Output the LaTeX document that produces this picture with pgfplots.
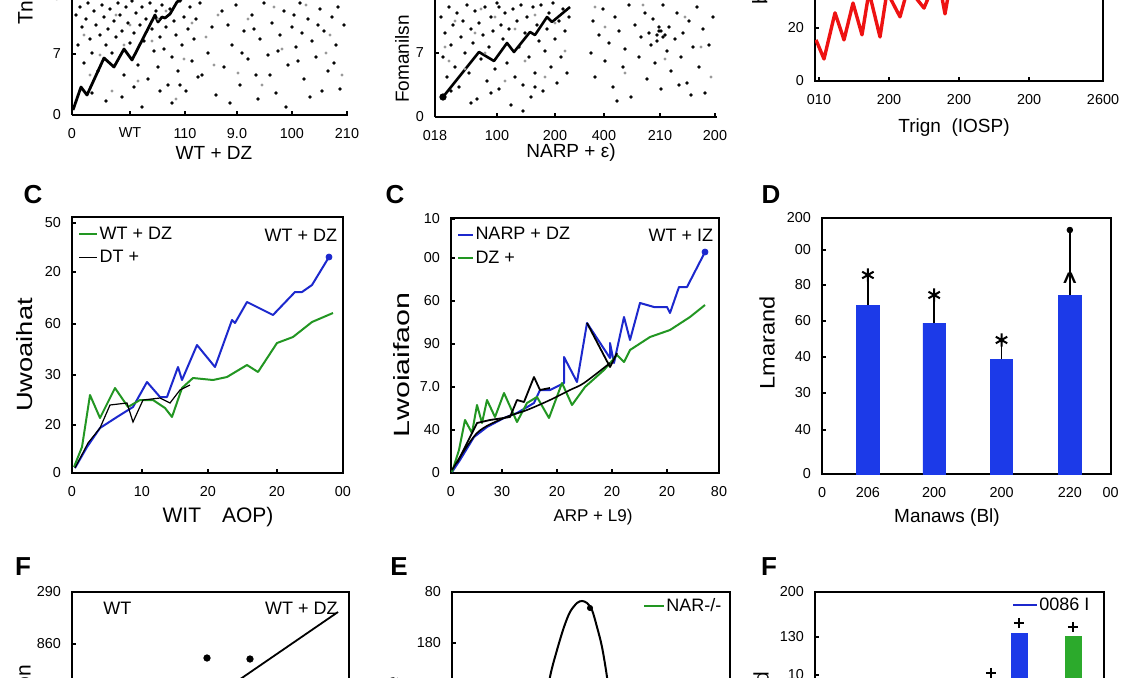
\documentclass[border=0pt]{standalone}
\usepackage{fontspec}
\setmainfont{Liberation Sans}
\usepackage{pgfplots}
\pgfplotsset{compat=1.18}
\definecolor{barblue}{RGB}{28,58,232}
\definecolor{lblue}{RGB}{28,40,205}
\definecolor{lgreen}{RGB}{34,150,34}
\definecolor{bgreen}{RGB}{44,170,44}
\definecolor{lred}{RGB}{238,18,18}
\newcommand{\lab}{\fontsize{9.5}{11}\selectfont}
\newcommand{\ylab}{\fontsize{10.5}{12}\selectfont}
\newcommand{\pan}{\fontsize{13}{13}\selectfont\bfseries}
\pgfplotsset{
  panel/.style={
    scale only axis, anchor=south west,
    axis line style={-, line width=0.9pt},
    every tick/.style={black, line width=0.6pt},
    major tick length=2pt, tick align=inside, tick pos=left,
    ticklabel style={font=\fontsize{7.2}{8}\selectfont},
    xticklabel style={yshift=-3pt},
    yticklabel style={xshift=-2pt},
    legend style={draw=none, fill=none, font=\fontsize{9}{10}\selectfont, inner sep=0pt, row sep=1.5pt,
      nodes={inner sep=0.6pt, text height=7pt, text depth=2pt}},
    legend cell align=left,
  },
  dots/.style={only marks, mark=*, mark size=0.6pt, black},
  gdots/.style={only marks, mark=*, mark size=0.5pt, black!40},
}
\begin{document}
\begin{tikzpicture}
\useasboundingbox (0pt,0pt) rectangle (565.5pt,338.5pt);
\clip (0pt,0pt) rectangle (565.5pt,338.5pt);

% ---------------- top-left
\begin{axis}[panel, at={(36pt,281pt)}, width=138pt, height=122pt,
  xmin=0, xmax=276, ymin=0, ymax=244, axis lines*=left,
  xtick={0,58,113,165,220,275}, xticklabels={0,WT,110,9.0,100,210},
  ytick={0,61,119}, yticklabels={0,7,10}]
\addplot[dots] coordinates {(4,100) (6,70) (8,108) (10,88) (12,52) (14,96) (16,112) (18,76) (20,62) (22,104) (24,90) (26,44) (28,80) (30,110) (32,98) (34,70) (36,86) (38,106) (40,62) (42,94) (44,78) (46,112) (48,100) (50,84) (52,40) (54,108) (56,92) (58,72) (60,114) (62,82) (64,102) (66,50) (68,90) (70,108) (72,74) (74,96) (76,36) (78,112) (80,86) (82,64) (84,104) (86,48) (88,78) (90,110) (92,66) (94,88) (96,30) (98,106) (100,58) (102,94) (104,80) (106,44) (108,114) (110,70) (112,98) (114,24) (116,86) (118,108) (120,54) (122,76) (124,96) (126,38) (128,112) (20,22) (34,14) (50,18) (62,28) (88,24) (100,12) (70,8) (108,30) (130,40) (136,62) (140,88) (144,20) (150,104) (152,48) (156,90) (160,70) (164,110) (168,30) (172,84) (176,56) (180,100) (184,40) (188,76) (192,112) (196,60) (200,92) (204,22) (208,80) (212,104) (216,50) (220,88) (224,68) (228,112) (232,36) (236,96) (240,74) (244,58) (248,106) (252,84) (256,44) (260,98) (264,70) (268,26) (272,90) (158,12) (186,16) (214,8) (238,18) (262,52) (170,62) (198,40) (226,54) (250,24) (230,82) (206,64) (182,86) (246,90) (266,108) (222,100)};
\addplot[gdots] coordinates {(12,80) (28,60) (44,100) (58,90) (66,34) (80,74) (94,104) (112,56) (120,92) (134,78) (142,50) (176,96) (190,30) (210,66) (234,110) (254,62) (270,40) (40,24) (104,16) (166,42) (18,40) (52,70) (86,96) (146,100) (202,108) (258,80)};
\addplot[black, line width=1.4pt, line join=round] coordinates {(1,5) (9,28) (15,20) (32,57) (42,48) (52,66) (60,55) (83,100) (86,93) (90,98) (93,97) (98,101) (105,113) (111,117) (118,123) (128,135)};
\end{axis}

% ---------------- top-middle
\begin{axis}[panel, at={(217.5pt,280pt)}, width=141pt, height=122pt,
  xmin=0, xmax=282, ymin=0, ymax=244, axis lines*=left,
  xtick={0,62,120,169,225,280}, xticklabels={018,100,200,400,210,200},
  ytick={0,64,128}, yticklabels={0,7,10}]
\addplot[dots] coordinates {(6,100) (8,60) (10,84) (12,40) (14,110) (16,72) (18,92) (20,50) (22,104) (24,30) (26,80) (28,96) (30,64) (32,112) (34,44) (36,88) (38,74) (40,106) (42,18) (44,94) (46,58) (48,82) (50,110) (52,36) (54,70) (56,100) (58,86) (60,48) (62,114) (64,28) (66,92) (68,78) (70,104) (72,54) (74,88) (76,12) (78,108) (80,40) (82,96) (84,70) (86,112) (88,32) (90,84) (92,100) (94,60) (96,20) (98,110) (100,44) (102,92) (104,76) (106,112) (108,26) (110,66) (112,88) (114,104) (116,50) (118,114) (120,78) (122,34) (124,96) (126,60) (128,108) (130,86) (132,44) (134,100) (36,14) (56,24) (88,6) (64,110) (100,30) (16,26) (156,64) (158,96) (160,40) (164,82) (168,108) (170,56) (174,74) (178,30) (180,100) (184,86) (188,50) (190,68) (194,112) (196,20) (200,92) (204,60) (206,80) (210,104) (212,38) (216,72) (218,98) (220,54) (224,86) (226,28) (228,112) (232,66) (234,90) (236,46) (240,78) (242,104) (246,60) (248,84) (252,34) (254,96) (258,70) (262,110) (264,50) (268,88) (270,24) (274,72) (278,100) (214,84) (222,76) (230,82) (244,32) (182,16) (256,22) (222,82) (226,86) (228,80) (224,90)};
\addplot[gdots] coordinates {(10,70) (20,96) (30,48) (40,84) (50,64) (60,100) (70,36) (80,88) (90,56) (100,102) (110,40) (120,94) (130,66) (14,56) (46,108) (170,90) (190,44) (208,112) (230,58) (250,100) (266,70) (276,40) (160,110)};
\addplot[black, line width=1.3pt, line join=round] coordinates {(8,20) (44,65) (59,56) (72,74) (79,65) (95,85) (100,82) (112,100) (117,95) (135,110)};
\addplot[only marks, mark=*, mark size=1.6pt, black] coordinates {(8,20)};
\end{axis}

% ---------------- top-right
\begin{axis}[panel, at={(407.5pt,298pt)}, width=144pt, height=122pt,
  xmin=0, xmax=288, ymin=0, ymax=92,
  xtick={4,74,144,214,288}, xticklabels={010,200,200,200,2600},
  ytick={0,20,40}, yticklabels={0,20,40}]
\addplot[lred, line width=1.7pt, line join=round] coordinates {(1,15.5) (9,8.3) (20,25.7) (29,15.5) (38,29.4) (47,17.4) (54,33.6) (65,16.6) (72,33.6) (85,24.2) (93,35.1) (109,27.5) (117,34.7) (125,35.5) (130,25.3) (135,36)};
\end{axis}

% ---------------- C left
\begin{axis}[panel, at={(36pt,102pt)}, width=135.5pt, height=128pt,
  xmin=0, xmax=271, ymin=0, ymax=256,
  xtick={0,70,136,205,271}, xticklabels={0,10,20,20,00},
  ytick={0,48,98,149,201,250}, yticklabels={0,20,30,60,20,50},
  legend style={at={(rel axis cs:0.022,0.975)}, anchor=north west},
  legend image code/.code={\draw[#1] (0pt,0pt) -- (9pt,0pt);}]
\addplot[lblue, line width=1pt, line join=round, forget plot] coordinates {(3,5) (15,26) (28,45) (45,56) (61,66) (75,91) (88,76) (95,76) (106,106) (110,93) (125,128) (143,106) (160,153) (163,150) (175,171) (201,158) (223,181) (230,181) (240,188) (257,216)};
\addplot[lgreen, line width=1pt, line join=round] coordinates {(2,6) (10,26) (18,78) (28,55) (43,85) (56,66) (68,73) (81,73) (93,65) (100,56) (110,85) (121,95) (141,93) (155,96) (175,108) (186,101) (205,130) (221,136) (240,151) (261,160)};
\addlegendentry{WT + DZ}
\addplot[black, line width=0.6pt] coordinates {(3,5) (16,30) (28,45) (38,68) (55,70) (61,51) (71,73) (88,75) (98,70) (108,83) (118,88)};
\addlegendentry{DT +}
\addplot[lblue, only marks, mark=*, mark size=1.5pt, forget plot] coordinates {(257,216)};
\node[anchor=east, inner sep=0pt, font=\fontsize{9}{10}\selectfont] at (rel axis cs:0.98,0.93) {WT + DZ};
\end{axis}

% ---------------- C middle
\begin{axis}[panel, at={(225.5pt,102pt)}, width=134pt, height=127.5pt,
  xmin=0, xmax=268, ymin=0, ymax=255,
  xtick={0,51,106,161,216,268}, xticklabels={0,30,20,20,20,80},
  ytick={0,43,86,129,172,215,254}, yticklabels={0,40,7.0,90,60,00,10},
  legend style={at={(rel axis cs:0.022,0.975)}, anchor=north west},
  legend image code/.code={\draw[#1] (0pt,0pt) -- (7.5pt,0pt);}]
\addplot[lblue, line width=1pt, line join=round] coordinates {(1,1) (9,13) (23,36) (36,46) (53,55) (66,60) (83,70) (89,83) (99,83) (113,90) (113,116) (126,91) (136,150) (159,115) (159,130) (163,110) (173,156) (179,133) (189,170) (203,166) (216,166) (219,160) (228,186) (236,186) (254,221)};
\addlegendentry{NARP + DZ}
\addplot[lgreen, line width=1pt, line join=round] coordinates {(1,1) (8,23) (14,53) (21,40) (26,68) (31,50) (36,73) (44,56) (53,80) (66,51) (76,70) (86,76) (98,55) (111,90) (121,68) (134,86) (153,103) (166,118) (173,111) (179,123) (199,136) (219,143) (239,156) (254,168)};
\addlegendentry{DZ +}
\addplot[black, line width=0.8pt, smooth, forget plot] coordinates {(1,3) (26,40) (53,55) (76,63) (99,73) (119,83) (133,90) (159,110)};
\addplot[black, line width=0.9pt, line join=round, forget plot] coordinates {(6,10) (26,50) (39,53) (59,56) (66,73) (73,71) (83,96) (89,83) (99,85)};
\addplot[black, line width=0.9pt, line join=round, forget plot] coordinates {(136,150) (159,106) (166,120)};
\addplot[lblue, only marks, mark=*, mark size=1.5pt, forget plot] coordinates {(254,221)};
\node[anchor=east, inner sep=0pt, font=\fontsize{9}{10}\selectfont] at (rel axis cs:0.98,0.933) {WT + IZ};
\end{axis}

% ---------------- D
\begin{axis}[panel, at={(411pt,101.5pt)}, width=141.5pt, height=128pt,
  xmin=0, xmax=283, ymin=0, ymax=256,
  xtick={0,45,110,176,243,283}, xticklabels={0,206,200,200,220,00},
  ytick={0,44,81,117,153,189,224,256}, yticklabels={0,40,30,40,60,80,00,200}]
\addplot[ybar, bar width=22, fill=barblue, draw=barblue,
  error bars/.cd, y dir=plus, y explicit, error mark=none,
  error bar style={black, line width=0.8pt}]
  coordinates {(45,169) +- (0,32) (110,151) +- (0,28) (176,115) +- (0,19) (243,179) +- (0,67)};
\addplot[only marks, mark=asterisk, mark size=3.3pt, line width=1pt, black] coordinates {(45,199) (110,179) (176,134)};
\addplot[only marks, mark=*, mark size=1.4pt, black] coordinates {(243,244)};
\node[font=\bfseries\fontsize{12}{12}\selectfont] at (axis cs:243,193) {\textasciicircum};
\end{axis}

% ---------------- F left (bottom)
\begin{axis}[panel, at={(36pt,-85.5pt)}, width=138.5pt, height=128pt,
  xmin=0, xmax=277, ymin=0, ymax=256, xtick=\empty,
  ytick={204,256}, yticklabels={860,290}]
\addplot[black, line width=0.9pt] coordinates {(266,236) (78,107)};
\addplot[only marks, mark=*, mark size=1.6pt, black] coordinates {(135,190) (178,189)};
\node[anchor=west, inner sep=0pt, font=\fontsize{9}{10}\selectfont] at (rel axis cs:0.112,0.9375) {WT};
\node[anchor=east, inner sep=0pt, font=\fontsize{9}{10}\selectfont] at (rel axis cs:0.96,0.9375) {WT + DZ};
\end{axis}

% ---------------- E (bottom)
\begin{axis}[panel, at={(226pt,-85.5pt)}, width=139pt, height=128pt,
  xmin=0, xmax=278, ymin=0, ymax=256, xtick=\empty,
  ytick={205,256}, yticklabels={180,80},
  legend style={at={(rel axis cs:0.975,0.985)}, anchor=north east},
  legend image code/.code={\draw[#1] (0pt,0pt) -- (10pt,0pt);}]
\addlegendimage{lgreen, line width=1pt}
\addlegendentry{NAR-/-}
\addplot[black, line width=1pt, smooth, forget plot] coordinates {(92,130) (98,171) (105,198) (112,221) (118,236) (125,245) (130,247) (135,245) (140,238) (145,221) (150,201) (155,171) (160,130)};
\addplot[only marks, mark=*, mark size=1.3pt, black, forget plot] coordinates {(138,240)};
\end{axis}

% ---------------- F right (bottom)
\begin{axis}[panel, at={(407.5pt,-85.5pt)}, width=144.5pt, height=128pt,
  xmin=0, xmax=289, ymin=0, ymax=256, xtick=\empty,
  ytick={173,211,256}, yticklabels={10,130,200},
  legend style={at={(rel axis cs:0.955,0.99)}, anchor=north east},
  legend image code/.code={\draw[#1] (0pt,0pt) -- (12pt,0pt);}]
\addlegendimage{lblue, line width=1pt}
\addlegendentry{0086 I}
\addplot[ybar, bar width=16, fill=barblue, draw=barblue, forget plot] coordinates {(204,215)};
\addplot[ybar, bar width=16, fill=bgreen, draw=bgreen, forget plot] coordinates {(258,212)};
\addplot[only marks, mark=+, mark size=2.6pt, line width=1pt, black, forget plot] coordinates {(204,225) (258,221) (176,175)};
\end{axis}

% ---------------- labels
\node[font=\lab] at (107pt,262pt) {WT + DZ};
\node[font=\ylab, rotate=90, anchor=west] at (12.5pt,322.5pt) {Tnumbers};
\node[font=\lab] at (285.5pt,262pt) {NARP + ε)};
\node[font=\fontsize{9.5}{11}\selectfont, rotate=90] at (201pt,309pt) {Fomanilsn};
\node[font=\lab] at (477pt,274.5pt) {Trign\ \ (IOSP)};
\node[font=\ylab, rotate=90, anchor=west] at (381pt,332.5pt) {binding};

\node[font=\pan] at (16.5pt,241pt) {C};
\node[font=\fontsize{10.5}{12}\selectfont] at (109pt,80pt) {WIT\quad AOP)};
\node[font=\ylab, rotate=90] at (12.5pt,161pt) {\scalebox{1.3}[1.05]{Uwoaihat}};
\node[font=\pan] at (197.5pt,241pt) {C};
\node[font=\fontsize{8.5}{10}\selectfont] at (296.5pt,80pt) {ARP + L9)};
\node[font=\ylab, rotate=90] at (201pt,156pt) {\scalebox{1.45}[1.05]{Lwoiaifaon}};
\node[font=\pan] at (385.5pt,241pt) {D};
\node[font=\lab] at (473.5pt,79.5pt) {Manaws (Bl)};
\node[font=\ylab, rotate=90] at (383.5pt,167pt) {\scalebox{1.12}[1]{Lmarand}};

\node[font=\pan] at (11.5pt,55pt) {F};
\node[font=\ylab, rotate=90, anchor=east] at (11.5pt,9.5pt) {Normalization};
\node[font=\pan] at (199.5pt,55pt) {E};
\node[font=\ylab, rotate=90, anchor=east] at (196pt,3.5pt) {Absorbance};
\node[font=\pan] at (384.5pt,55pt) {F};
\node[font=\ylab, rotate=90, anchor=east] at (380.5pt,6pt) {Fold};
\end{tikzpicture}
\end{document}
